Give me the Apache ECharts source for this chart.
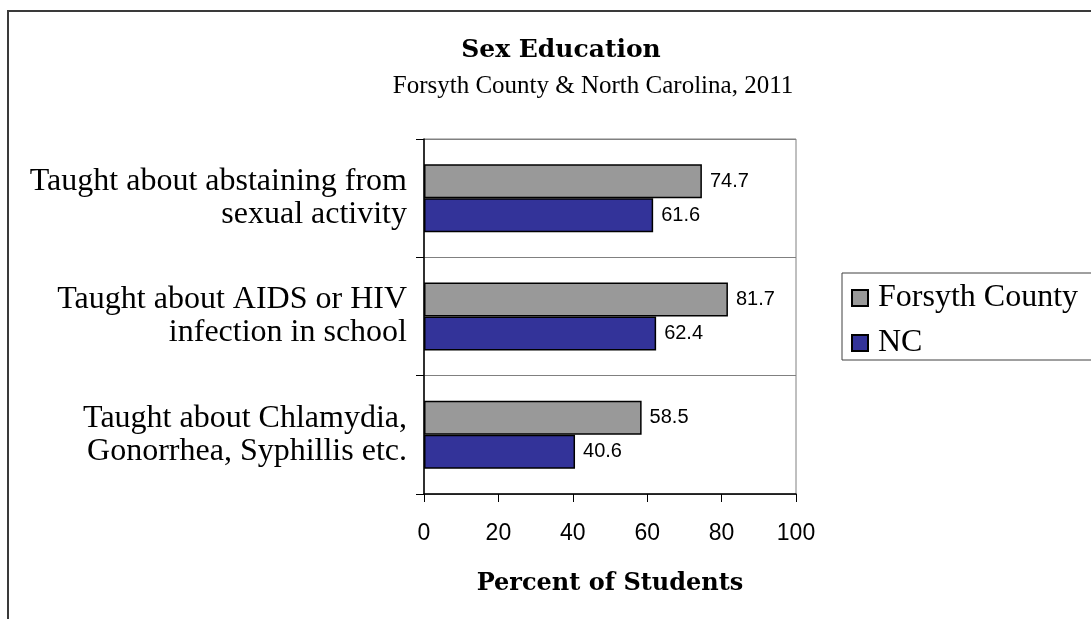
<!DOCTYPE html>
<html>
<head>
<meta charset="utf-8">
<script src="https://cdn.jsdelivr.net/npm/echarts@6/dist/echarts.min.js"></script>
<style>
html,body{margin:0;padding:0;background:#fff;}
#chart{width:1091px;height:619px;}
</style>
</head>
<body>
<div id="chart"></div>
<script>
const categories = [
  "Taught about abstaining from\nsexual activity",
  "Taught about AIDS or HIV\ninfection in school",
  "Taught about Chlamydia,\nGonorrhea, Syphillis etc."
];
const seriesNames = ["Forsyth County", "NC"];
const forsythValues = [74.7, 81.7, 58.5];
const ncValues = [61.6, 62.4, 40.6];
const titleText = "Sex Education";
const subtitleText = "Forsyth County & North Carolina, 2011";
const xAxisName = "Percent of Students";

const chart = echarts.init(document.getElementById('chart'), null, {renderer: 'canvas'});
const serif = '"Liberation Serif", serif';
const serifBold = '"DejaVu Serif", serif';
const sans = '"Liberation Sans", Arial, sans-serif';

chart.setOption({
  animation: false,
  backgroundColor: '#ffffff',
  title: [
    {text: titleText, left: 556, textAlign: 'center', top: 33,
     textStyle: {fontFamily: serifBold, fontWeight: 'bold', fontSize: 25, color: '#000'}},
    {text: subtitleText, left: 588, textAlign: 'center', top: 69,
     textStyle: {fontFamily: serif, fontWeight: 'normal', fontSize: 25, color: '#000'}}
  ],
  graphic: [
    {type: 'line', shape: {x1: 8, y1: 11, x2: 8, y2: 619}, style: {stroke: '#3a3a3a', lineWidth: 2}},
    {type: 'line', shape: {x1: 7, y1: 11, x2: 1091, y2: 11}, style: {stroke: '#3a3a3a', lineWidth: 2}}
  ],
  legend: {
    orient: 'vertical',
    left: 842, top: 273,
    padding: [9, 20, 1, 9],
    borderColor: '#404040', borderWidth: 1,
    itemWidth: 16, itemHeight: 16, itemGap: 13,
    icon: 'rect',
    textStyle: {fontFamily: serif, fontSize: 32, color: '#000', lineHeight: 32, padding: [0,0,0,5]},
    data: seriesNames
  },
  grid: {
    left: 424, right: 295, top: 139, bottom: 125,
    show: true, borderColor: '#808080', borderWidth: 1, backgroundColor: 'transparent'
  },
  xAxis: {
    type: 'value', min: 0, max: 100, interval: 20,
    name: xAxisName, nameLocation: 'middle', nameGap: 78,
    nameTextStyle: {fontFamily: serifBold, fontWeight: 'bold', fontSize: 24, color: '#000'},
    axisLine: {show: true, lineStyle: {color: '#000', width: 1.5}},
    axisTick: {show: true, length: 8, lineStyle: {color: '#000'}},
    axisLabel: {fontFamily: sans, fontSize: 23, color: '#000', margin: 28},
    splitLine: {show: false}
  },
  yAxis: {
    type: 'category', inverse: true, data: categories,
    axisLine: {show: true, lineStyle: {color: '#000', width: 1.5}},
    axisTick: {show: true, length: 8, lineStyle: {color: '#000'}},
    axisLabel: {fontFamily: serif, fontSize: 32, lineHeight: 33, color: '#000', margin: 17, align: 'right'},
    splitLine: {show: true, lineStyle: {color: '#808080', width: 1}}
  },
  series: [
    {name: seriesNames[0], type: 'bar', data: forsythValues, barWidth: 34, barGap: '0%',
     itemStyle: {color: '#999999', borderColor: '#000', borderWidth: 1.5},
     label: {show: true, position: 'right', distance: 8, fontFamily: sans, fontSize: 20, color: '#000'}},
    {name: seriesNames[1], type: 'bar', data: ncValues, barWidth: 34, barGap: '0%',
     itemStyle: {color: '#333399', borderColor: '#000', borderWidth: 1.5},
     label: {show: true, position: 'right', distance: 8, fontFamily: sans, fontSize: 20, color: '#000'}}
  ]
});
</script>
</body>
</html>
